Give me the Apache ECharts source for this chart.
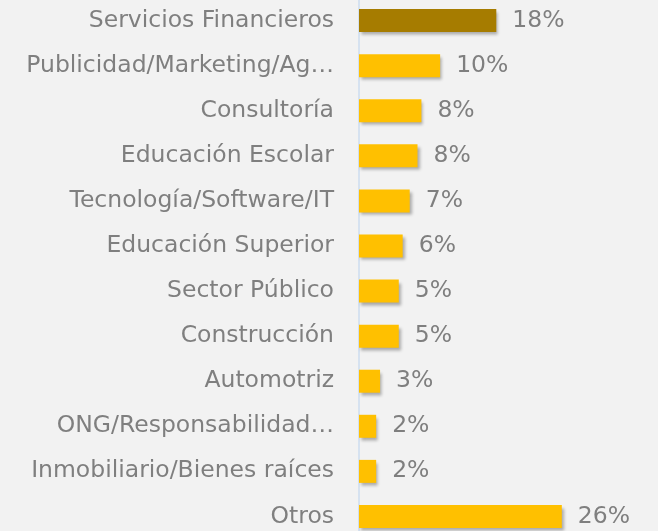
<!DOCTYPE html>
<html>
<head>
<meta charset="UTF-8">
<title>Sectores</title>
<script src="https://cdn.jsdelivr.net/npm/echarts@6/dist/echarts.min.js"></script>
<style>
  html, body { margin: 0; padding: 0; background: #f2f2f2; }
  #chart { width: 658px; height: 531px; }
</style>
</head>
<body>
<div id="chart"></div>
<script>
// categorias de arriba hacia abajo
var categories = [
  'Servicios Financieros',
  'Publicidad/Marketing/Ag…',
  'Consultoría',
  'Educación Escolar',
  'Tecnología/Software/IT',
  'Educación Superior',
  'Sector Público',
  'Construcción',
  'Automotriz',
  'ONG/Responsabilidad…',
  'Inmobiliario/Bienes raíces',
  'Otros'
];
// porcentajes
var values = [17.6, 10.4, 8.0, 7.5, 6.5, 5.6, 5.1, 5.1, 2.7, 2.2, 2.2, 26.0];
var highlight = 0; // barra destacada

var chart = echarts.init(document.getElementById('chart'));

var data = values.map(function(v, i) {
  return {
    value: v,
    itemStyle: { color: i === highlight ? '#a67c00' : '#ffc000' }
  };
});

var option = {
  backgroundColor: '#f2f2f2',
  animation: false,
  grid: { left: 359, top: -2, width: 299, height: 541, outerBoundsMode: 'none' },
  xAxis: {
    type: 'value',
    min: 0,
    max: 38.33,
    show: false
  },
  yAxis: {
    type: 'category',
    inverse: true,
    data: categories,
    axisLine: { show: true, lineStyle: { color: '#d6e2f0', width: 2 } },
    axisTick: { show: false },
    axisLabel: {
      color: '#7f7f7f',
      fontSize: 23.5,
      fontFamily: 'DejaVu Sans',
      margin: 25
    }
  },
  series: [{
    type: 'bar',
    data: data,
    barWidth: 23,
    itemStyle: {
      shadowBlur: 3,
      shadowOffsetX: 2,
      shadowOffsetY: 3,
      shadowColor: 'rgba(0,0,0,0.3)'
    },
    label: {
      show: true,
      position: 'right',
      distance: 16,
      color: '#7f7f7f',
      fontSize: 23.5,
      fontFamily: 'DejaVu Sans',
      formatter: function(p) { return Math.round(p.value) + '%'; }
    }
  }]
};

chart.setOption(option);
</script>
</body>
</html>
